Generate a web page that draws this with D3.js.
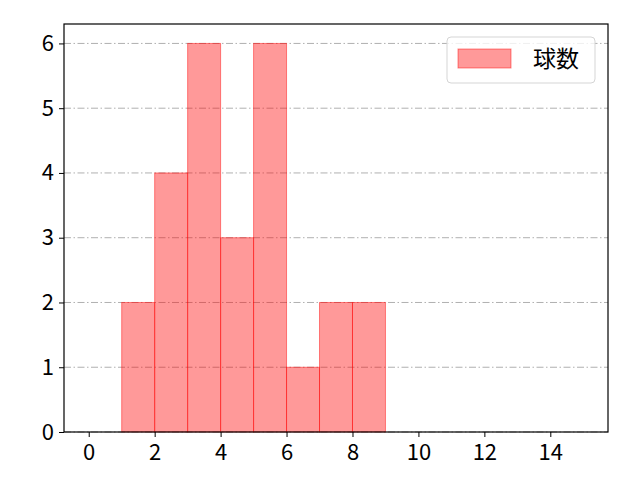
<!DOCTYPE html>
<html>
<head>
<meta charset="utf-8">
<script src="https://cdn.jsdelivr.net/npm/d3@7"></script>
<style>
  body { margin: 0; background: #fff; }
  text { font-family: "Noto Sans CJK JP", "DejaVu Sans", sans-serif; }
</style>
</head>
<body>
<div id="chart"></div>
<script>
const width = 640, height = 480;
const margin = { top: 24, right: 32, bottom: 48, left: 64 };

// histogram bins (left edges) and counts
const binStarts = [1, 2, 3, 4, 5, 6, 7, 8];
const binWidth = 1;
const counts = [2, 4, 6, 3, 6, 1, 2, 2];
const xTicks = [0, 2, 4, 6, 8, 10, 12, 14];
const yTicks = [0, 1, 2, 3, 4, 5, 6];
const seriesName = "球数";

const svg = d3.select("#chart").append("svg")
  .attr("width", width)
  .attr("height", height);

const innerWidth = width - margin.left - margin.right;
const innerHeight = height - margin.top - margin.bottom;

const g = svg.append("g").attr("transform", `translate(${margin.left},${margin.top})`);

const x = d3.scaleLinear().domain([-0.75, 15.75]).range([0, innerWidth]);
const y = d3.scaleLinear().domain([0, 6.3]).range([innerHeight, 0]);

// grid
g.append("g").selectAll("line")
  .data(yTicks)
  .join("line")
  .attr("x1", 0).attr("x2", innerWidth)
  .attr("y1", d => y(d)).attr("y2", d => y(d))
  .attr("stroke", "#b0b0b0")
  .attr("stroke-width", 1)
  .attr("stroke-dasharray", "7,2.5,1.5,2.5");

// bars
g.append("g").selectAll("rect")
  .data(binStarts)
  .join("rect")
  .attr("x", d => x(d))
  .attr("y", (d, i) => y(counts[i]))
  .attr("width", d => x(d + binWidth) - x(d))
  .attr("height", (d, i) => y(0) - y(counts[i]))
  .attr("fill", "rgba(255,0,0,0.4)")
  .attr("stroke", "rgba(255,0,0,0.45)")
  .attr("stroke-width", 1);

// axes
const xAxis = g.append("g")
  .attr("transform", `translate(0,${innerHeight})`)
  .call(d3.axisBottom(x).tickValues(xTicks).tickFormat(d3.format("d"))
    .tickSize(5).tickPadding(7).tickSizeOuter(0));
const yAxis = g.append("g")
  .call(d3.axisLeft(y).tickValues(yTicks).tickFormat(d3.format("d"))
    .tickSize(5).tickPadding(5).tickSizeOuter(0));

[xAxis, yAxis].forEach(a => {
  a.select(".domain").remove();
  a.selectAll("line").attr("stroke", "#000");
  a.selectAll("text").attr("font-size", "22px").attr("fill", "#000")
    .style("font-family", "\"Noto Sans CJK JP\", sans-serif");
});

// frame
g.append("rect")
  .attr("x", 0).attr("y", 0)
  .attr("width", innerWidth).attr("height", innerHeight)
  .attr("fill", "none")
  .attr("stroke", "#000")
  .attr("stroke-width", 1.2);

// legend
const lg = svg.append("g").attr("transform", "translate(447,37)");
lg.append("rect")
  .attr("width", 148).attr("height", 46)
  .attr("rx", 4)
  .attr("fill", "rgba(255,255,255,0.8)")
  .attr("stroke", "#d5d5d5");
lg.append("rect")
  .attr("x", 11).attr("y", 12)
  .attr("width", 53).attr("height", 19)
  .attr("fill", "rgba(255,0,0,0.4)")
  .attr("stroke", "rgba(255,0,0,0.45)");
lg.append("text")
  .attr("x", 86).attr("y", 30)
  .attr("font-size", "23px")
  .text(seriesName);
</script>
</body>
</html>
